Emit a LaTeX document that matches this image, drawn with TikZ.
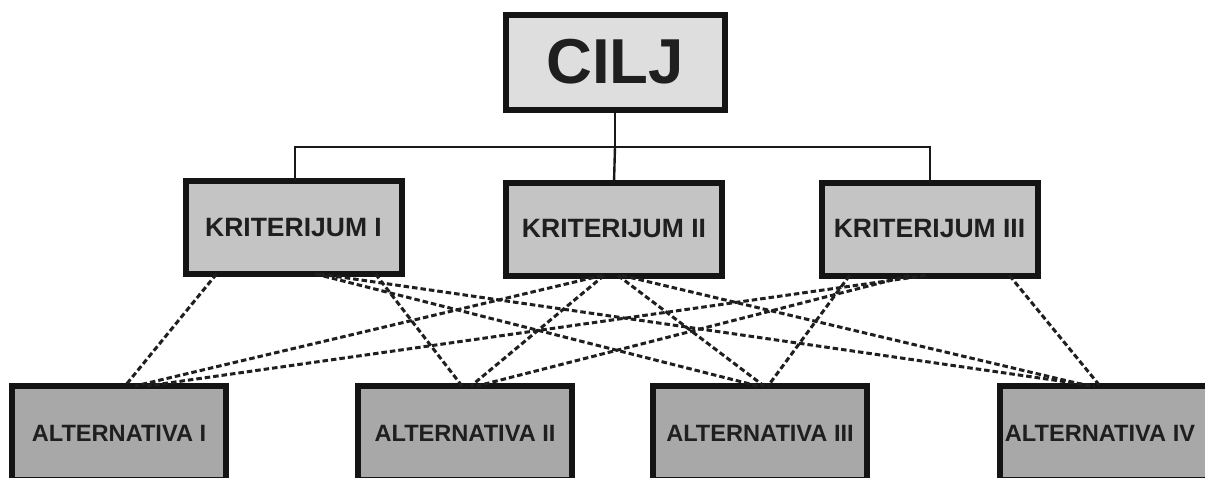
\documentclass[tikz,border=0pt]{standalone}
\usepackage{fontspec}
\setmainfont{Liberation Sans}
\begin{document}
\begin{tikzpicture}[x=1pt,y=-1pt,
  boxbase/.style={draw=black!92, line width=6pt, rectangle, inner sep=0pt, text=black!88, font=\bfseries},
  goalbox/.style={boxbase, fill=black!13, minimum width=219pt, minimum height=95pt, font=\fontsize{63.5}{64}\selectfont\bfseries},
  critbox/.style={boxbase, fill=black!23, minimum width=216pt, minimum height=93pt, font=\fontsize{26.5}{27}\selectfont\bfseries},
  altbox/.style={boxbase, fill=black!34, minimum width=214pt, minimum height=94pt, font=\fontsize{23.6}{24}\selectfont\bfseries},
  tree/.style={draw=black!90, line width=2.4pt},
  link/.style={draw=black!88, line width=3pt, dash pattern=on 5.5pt off 3pt}
]
\clip (0,0) rectangle (1205,477);
\fill[white] (0,0) rectangle (1205,477);

\node[goalbox] (cilj) at (615,62) {CILJ};

\node[critbox] (k1) at (293.5,227.5) {KRITERIJUM I};
\node[critbox] (k2) at (614,229) {KRITERIJUM II};
\node[critbox] (k3) at (929.5,229) {KRITERIJUM III};

\node[altbox] (a1) at (119,433) {ALTERNATIVA I};
\node[altbox] (a2) at (465,433) {ALTERNATIVA II};
\node[altbox] (a3) at (760,433) {ALTERNATIVA III};
\node[altbox] (a4) at (1107,433) {\hspace*{-14pt}ALTERNATIVA IV};

% tree lines
\coordinate (hl) at (295,147);
\coordinate (hr) at (930,147);
\draw[tree] (cilj.south) -- (cilj.south |- hl);
\draw[tree] ([yshift=-3pt]k1.north -| hl) -- (hl) -- (hr) -- ([yshift=-3pt]k3.north -| hr);
\draw[tree] (cilj.south |- hl) -- ([yshift=-3pt]k2.north);

% dashed links (from criteria bottoms to alternative tops)
\begin{scope}[link]
\draw ([xshift=-77pt,yshift=3pt]k1.south) -- ([xshift=6pt,yshift=-3pt]a1.north);
\draw ([xshift=82pt,yshift=3pt]k1.south) -- ([xshift=-3pt,yshift=-3pt]a2.north);
\draw ([xshift=22pt,yshift=3pt]k1.south) -- ([xshift=-2pt,yshift=-3pt]a3.north);
\draw ([xshift=26pt,yshift=3pt]k1.south) -- ([xshift=-12pt,yshift=-3pt]a4.north);

\draw ([xshift=-12pt,yshift=3pt]k2.south) -- ([xshift=16pt,yshift=-3pt]a1.north);
\draw ([xshift=-10pt,yshift=3pt]k2.south) -- ([xshift=6pt,yshift=-3pt]a2.north);
\draw ([xshift=4pt,yshift=3pt]k2.south) -- ([xshift=4pt,yshift=-3pt]a3.north);
\draw ([xshift=8pt,yshift=3pt]k2.south) -- ([xshift=-18pt,yshift=-3pt]a4.north);

\draw ([xshift=-4pt,yshift=3pt]k3.south) -- ([xshift=28pt,yshift=-3pt]a1.north);
\draw ([xshift=-20pt,yshift=3pt]k3.south) -- ([xshift=12pt,yshift=-3pt]a2.north);
\draw ([xshift=-80pt,yshift=3pt]k3.south) -- ([xshift=8pt,yshift=-3pt]a3.north);
\draw ([xshift=80pt,yshift=3pt]k3.south) -- ([xshift=-7pt,yshift=-3pt]a4.north);
\end{scope}
\end{tikzpicture}
\end{document}
